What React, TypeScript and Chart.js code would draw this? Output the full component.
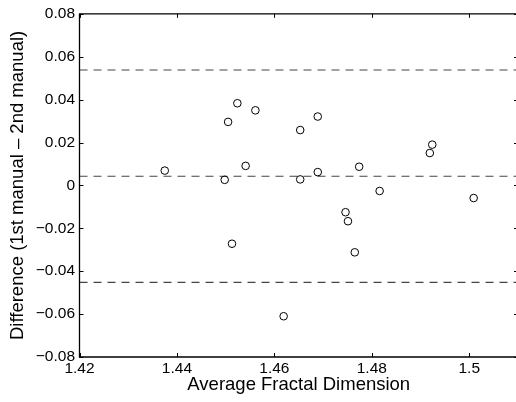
import React, { useEffect, useRef } from "react";
import { Chart, registerables } from "chart.js";

Chart.register(...registerables);

const avgValues = [
  1.4375, 1.4498, 1.4505, 1.4524, 1.4541, 1.4561, 1.4513, 1.4653, 1.4689, 1.4653,
  1.4689, 1.4774, 1.4816, 1.4924, 1.4919, 1.5009, 1.4746, 1.4751, 1.4765, 1.4619,
];
const diffValues = [
  0.0069, 0.0026, 0.0296, 0.0383, 0.0091, 0.035, -0.0272, 0.0258, 0.0321, 0.0028,
  0.0062, 0.0087, -0.0026, 0.019, 0.0151, -0.0059, -0.0125, -0.0167, -0.0312, -0.061,
];
const meanDiff = 0.0043;
const upperLimit = 0.0538;
const lowerLimit = -0.0452;
const xRange = [1.42, 1.51];
const yRange = [-0.08, 0.08];
const xTicks = [1.42, 1.44, 1.46, 1.48, 1.5];
const yTicks = [-0.08, -0.06, -0.04, -0.02, 0, 0.02, 0.04, 0.06, 0.08];
const xTitle = "Average Fractal Dimension";
const yTitle = "Difference (1st manual \u2013 2nd manual)";

const fmtX = (v: number) => String(Number(v.toFixed(2)));
const fmtY = (v: number) =>
  Math.abs(v) < 1e-9 ? "0" : (v < 0 ? "\u2212" : "") + String(Number(Math.abs(v).toFixed(2)));

const framePlugin = {
  id: "matlabFrame",
  afterDatasetsDraw(chart: any) {
    const { ctx, chartArea, scales } = chart;
    const { left, right, top, bottom } = chartArea;
    ctx.save();
    ctx.strokeStyle = "#000";
    ctx.lineWidth = 1.3;
    ctx.beginPath();
    ctx.moveTo(left, top);
    ctx.lineTo(right, top);
    ctx.lineTo(right, bottom);
    ctx.lineTo(left, bottom);
    ctx.closePath();
    ctx.stroke();
    const tl = 4;
    ctx.lineWidth = 1;
    ctx.beginPath();
    for (const v of xTicks) {
      const px = Math.round(scales.x.getPixelForValue(v)) + 0.5;
      ctx.moveTo(px, bottom);
      ctx.lineTo(px, bottom - tl);
      ctx.moveTo(px, top);
      ctx.lineTo(px, top + tl);
    }
    for (const v of yTicks) {
      const py = Math.round(scales.y.getPixelForValue(v)) + 0.5;
      ctx.moveTo(left, py);
      ctx.lineTo(left + tl, py);
      ctx.moveTo(right, py);
      ctx.lineTo(right - tl, py);
    }
    ctx.stroke();
    ctx.restore();
  },
};

const lineDataset = (y: number) => ({
  type: "line" as const,
  data: [
    { x: xRange[0], y },
    { x: xRange[1], y },
  ],
  borderColor: "#444444",
  borderWidth: 1.1,
  borderDash: [8, 6],
  pointRadius: 0,
  fill: false,
  order: 2,
});

export default function App() {
  const canvasRef = useRef<HTMLCanvasElement | null>(null);

  useEffect(() => {
    if (!canvasRef.current) return;
    const chart = new Chart(canvasRef.current, {
      type: "scatter",
      data: {
        datasets: [
          {
            data: avgValues.map((x, i) => ({ x, y: diffValues[i] })),
            pointStyle: "circle",
            pointRadius: 3.8,
            pointBorderWidth: 1,
            pointBorderColor: "#000",
            pointBackgroundColor: "rgba(0,0,0,0)",
            order: 1,
          } as any,
          lineDataset(upperLimit) as any,
          lineDataset(meanDiff) as any,
          lineDataset(lowerLimit) as any,
        ],
      },
      options: {
        animation: false,
        responsive: false,
        maintainAspectRatio: false,
        devicePixelRatio: 1,
        layout: { padding: { left: 0, top: 12, right: 12, bottom: 0 } },
        plugins: {
          legend: { display: false },
          tooltip: { enabled: false },
        },
        scales: {
          x: {
            type: "linear",
            min: xRange[0],
            max: xRange[1],
            afterBuildTicks: (s: any) => {
              s.ticks = xTicks.map((v) => ({ value: v }));
            },
            afterFit: (s: any) => {
              s.height = 45;
            },
            grid: { display: false, drawTicks: false },
            border: { display: false },
            ticks: {
              color: "#000",
              padding: 2,
              maxRotation: 0,
              autoSkip: false,
              font: { family: "Liberation Sans, Arial, sans-serif", size: 15.5 },
              callback: (v: any) => fmtX(Number(v)),
            },
            title: {
              display: true,
              text: xTitle,
              color: "#000",
              font: { family: "Liberation Sans, Arial, sans-serif", size: 18.5 },
              padding: { top: 0, bottom: 6 },
            },
          },
          y: {
            type: "linear",
            min: yRange[0],
            max: yRange[1],
            afterBuildTicks: (s: any) => {
              s.ticks = yTicks.map((v) => ({ value: v }));
            },
            afterFit: (s: any) => {
              s.width = 79.5;
            },
            grid: { display: false, drawTicks: false },
            border: { display: false },
            ticks: {
              color: "#000",
              padding: 4.5,
              autoSkip: false,
              font: { family: "Liberation Sans, Arial, sans-serif", size: 15.5 },
              callback: (v: any) => fmtY(Number(v)),
            },
            title: {
              display: true,
              text: yTitle,
              color: "#000",
              font: { family: "Liberation Sans, Arial, sans-serif", size: 18.5 },
              padding: { top: 7, bottom: 0 },
            },
          },
        },
      } as any,
      plugins: [framePlugin],
    });
    return () => chart.destroy();
  }, []);

  return (
    <div
      style={{
        position: "fixed",
        left: 0,
        top: 0,
        width: 516,
        height: 402,
        overflow: "hidden",
        background: "#fff",
      }}
    >
      <canvas ref={canvasRef} width={530} height={402} style={{ display: "block" }} />
    </div>
  );
}
